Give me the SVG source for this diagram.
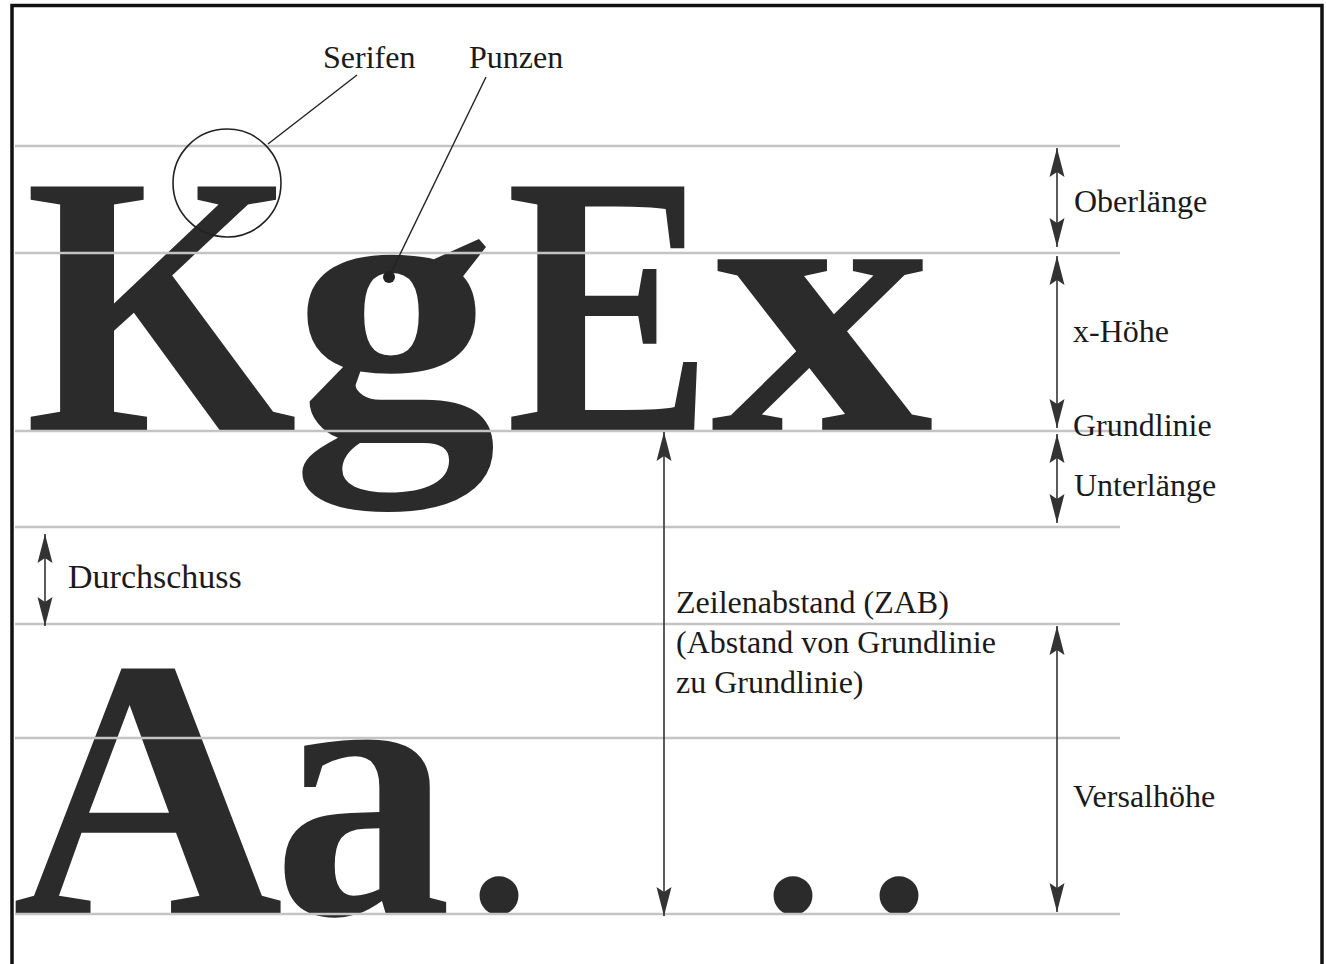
<svg xmlns="http://www.w3.org/2000/svg" width="1326" height="964" viewBox="0 0 1326 964">
<style>
.big{font-family:"Liberation Serif","Times New Roman",serif;font-weight:bold;font-size:372px;fill:#2b2b2b}
.dot{font-family:"Liberation Serif","Times New Roman",serif;font-weight:bold;font-size:240px;fill:#2b2b2b}
.lbl{font-family:"Liberation Serif","Times New Roman",serif;font-size:32px;fill:#1a1a1a}
.guide{stroke:#c4c4c4;stroke-width:2.5;fill:none}
.dim{stroke:#333;stroke-width:1.6;fill:none;marker-start:url(#ah);marker-end:url(#ah)}
.lead{stroke:#222;stroke-width:1.4;fill:none}
</style>
<defs>
<marker id="ah" viewBox="0 0 30 16" refX="29" refY="8" markerWidth="30" markerHeight="16" markerUnits="userSpaceOnUse" orient="auto-start-reverse">
<path d="M29,8 L0,0.5 L5,8 L0,15.5 Z" fill="#333"/>
</marker>
</defs>
<rect width="1326" height="964" fill="#fff"/>
<path id="frame" d="M12,964 V5.5 H1322 V964" fill="none" stroke="#111" stroke-width="3.5"/>

<g id="letters">
<g id="K"><text class="big" transform="translate(24.7,430) scale(0.942,1)">K</text></g>
<g id="g"><text class="big" transform="translate(291.5,430) scale(1.105,1)">g</text></g>
<g id="E"><text class="big" transform="translate(506,430) scale(0.834,1)">E</text></g>
<g id="x"><text class="big" transform="translate(710.8,430) scale(1.2,1)">x</text></g>
<g id="A"><text class="big" transform="translate(12,914) scale(1.01,1)">A</text></g>
<g id="a"><text class="big" transform="translate(273,914) scale(0.96,1)">a</text></g>
<g id="period"><text class="dot" x="469" y="912">.</text></g>
<g id="ellipsis"><text class="dot" x="763 869" y="912">..</text></g>
</g>

<g id="guides">
<line class="guide" x1="15" y1="146" x2="1120" y2="146"/>
<line class="guide" x1="15" y1="253" x2="1120" y2="253"/>
<line class="guide" x1="15" y1="431" x2="1120" y2="431"/>
<line class="guide" x1="15" y1="527" x2="1120" y2="527"/>
<line class="guide" x1="15" y1="624" x2="1120" y2="624"/>
<line class="guide" x1="15" y1="738" x2="1120" y2="738"/>
<line class="guide" x1="15" y1="914" x2="1120" y2="914"/>
</g>

<g id="connectors">
<line class="lead" x1="357" y1="75" x2="268" y2="144"/>
<circle cx="227" cy="183" r="54" fill="none" stroke="#222" stroke-width="1.6"/>
<line class="lead" x1="486" y1="77" x2="389" y2="277"/>
<circle cx="389" cy="277" r="6" fill="#222"/>
<line class="dim" x1="1057" y1="148" x2="1057" y2="247"/>
<line class="dim" x1="1057" y1="256" x2="1057" y2="428"/>
<line class="dim" x1="1057" y1="434" x2="1057" y2="523"/>
<line class="dim" x1="45" y1="534" x2="45" y2="626"/>
<line class="dim" x1="664" y1="432" x2="664" y2="916"/>
<line class="dim" x1="1057" y1="626" x2="1057" y2="912"/>
</g>

<g id="label-serifen"><text class="lbl" x="323" y="68">Serifen</text></g>
<g id="label-punzen"><text class="lbl" x="469" y="68">Punzen</text></g>
<g id="label-oberlaenge"><text class="lbl" x="1074" y="212">Oberlänge</text></g>
<g id="label-xhoehe"><text class="lbl" x="1073" y="342">x-Höhe</text></g>
<g id="label-grundlinie"><text class="lbl" x="1073" y="436">Grundlinie</text></g>
<g id="label-unterlaenge"><text class="lbl" x="1074" y="496">Unterlänge</text></g>
<g id="label-durchschuss"><text class="lbl" x="68" y="588" style="font-size:34px">Durchschuss</text></g>
<g id="label-zab"><text class="lbl" x="676" y="613">Zeilenabstand (ZAB)</text><text class="lbl" x="676" y="653">(Abstand von Grundlinie</text><text class="lbl" x="676" y="693">zu Grundlinie)</text></g>
<g id="label-versalhoehe"><text class="lbl" x="1073" y="807">Versalhöhe</text></g>
</svg>
